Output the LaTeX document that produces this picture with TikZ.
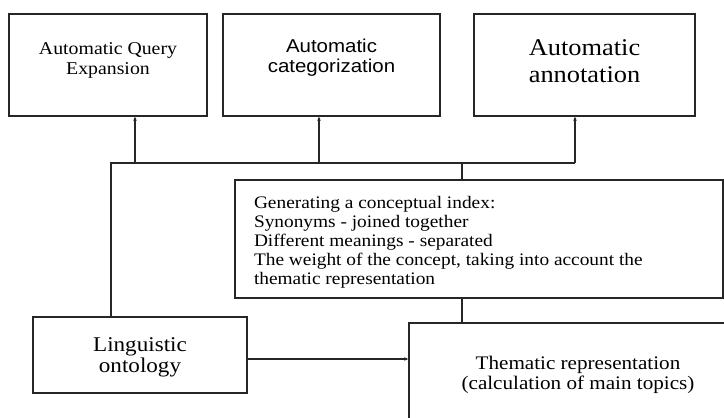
\documentclass[tikz,border=0pt]{standalone}
\usepackage{fontspec}
\setmainfont[FakeStretch=1.1]{Liberation Serif}
\setsansfont[FakeStretch=1.1]{Liberation Sans}
\usetikzlibrary{arrows.meta}
\newcommand\liftby[2]{\raisebox{#1}[\height][\depth]{#2}}
\begin{document}
\begin{tikzpicture}[x=1pt,y=-1pt,
  box/.style={draw=black!85, line width=1.4pt, rectangle, inner sep=0pt, fill=white},
  conn/.style={draw=black!85, line width=1.2pt},
  arr/.style={conn, -{Stealth[length=4pt,width=3.5pt]}}]
\useasboundingbox (0,0) rectangle (724,418);
\clip (0,0) rectangle (724,418);
\fill[white] (0,0) rectangle (724,418);

\node[box, minimum width=198, minimum height=102,
  font=\fontsize{18}{20}\selectfont] (aqe) at (108,65)
  {\liftby{5pt}{\begin{tabular}{@{}c@{}}Automatic Query\\Expansion\end{tabular}}};
\node[box, minimum width=217, minimum height=102,
  font=\sffamily\fontsize{18.6}{20}\selectfont] (cat) at (331.5,65)
  {\liftby{7pt}{\begin{tabular}{@{}c@{}}Automatic\\categorization\end{tabular}}};
\node[box, minimum width=221, minimum height=102,
  font=\fontsize{24}{27}\selectfont] (ann) at (584.5,65)
  {\liftby{1pt}{\begin{tabular}{@{}c@{}}Automatic\\annotation\end{tabular}}};

\node[box, minimum width=488, minimum height=118,
  font=\fontsize{17.6}{19}\selectfont] (conc) at (479,239)
  {\liftby{-4pt}{\begin{tabular}{@{}p{450pt}@{}}Generating a conceptual index:\\
   Synonyms - joined together\\
   Different meanings - separated\\
   The weight of the concept, taking into account the\\
   thematic representation\end{tabular}}};

\node[box, minimum width=214, minimum height=76,
  font=\fontsize{21}{21}\selectfont] (ling) at (140,355)
  {\liftby{-2.5pt}{\begin{tabular}{@{}c@{}}Linguistic\\ontology\end{tabular}}};

\node[box, minimum width=338, minimum height=100,
  font=\fontsize{19.2}{20}\selectfont] (them) at (578,373)
  {\liftby{-2pt}{\begin{tabular}{@{}c@{}}Thematic representation\\(calculation of main topics)\end{tabular}}};

\coordinate (jL) at (111,163);
\coordinate (j1) at (135,163);
\coordinate (j2) at (319,163);
\coordinate (j4) at (462,163);
\coordinate (j3) at (575,163);
\coordinate (lvl) at (0,359);

\draw[conn] (jL |- ling.north) -- (jL) -- (j3);
\draw[arr] (j1) -- (j1 |- aqe.south);
\draw[arr] (j2) -- (j2 |- cat.south);
\draw[arr] (j3) -- (j3 |- ann.south);
\draw[conn] (j4) -- (j4 |- conc.north);
\draw[conn] (j4 |- conc.south) -- (j4 |- them.north);
\draw[arr] (ling.east |- lvl) -- (them.west |- lvl);
\end{tikzpicture}
\end{document}
